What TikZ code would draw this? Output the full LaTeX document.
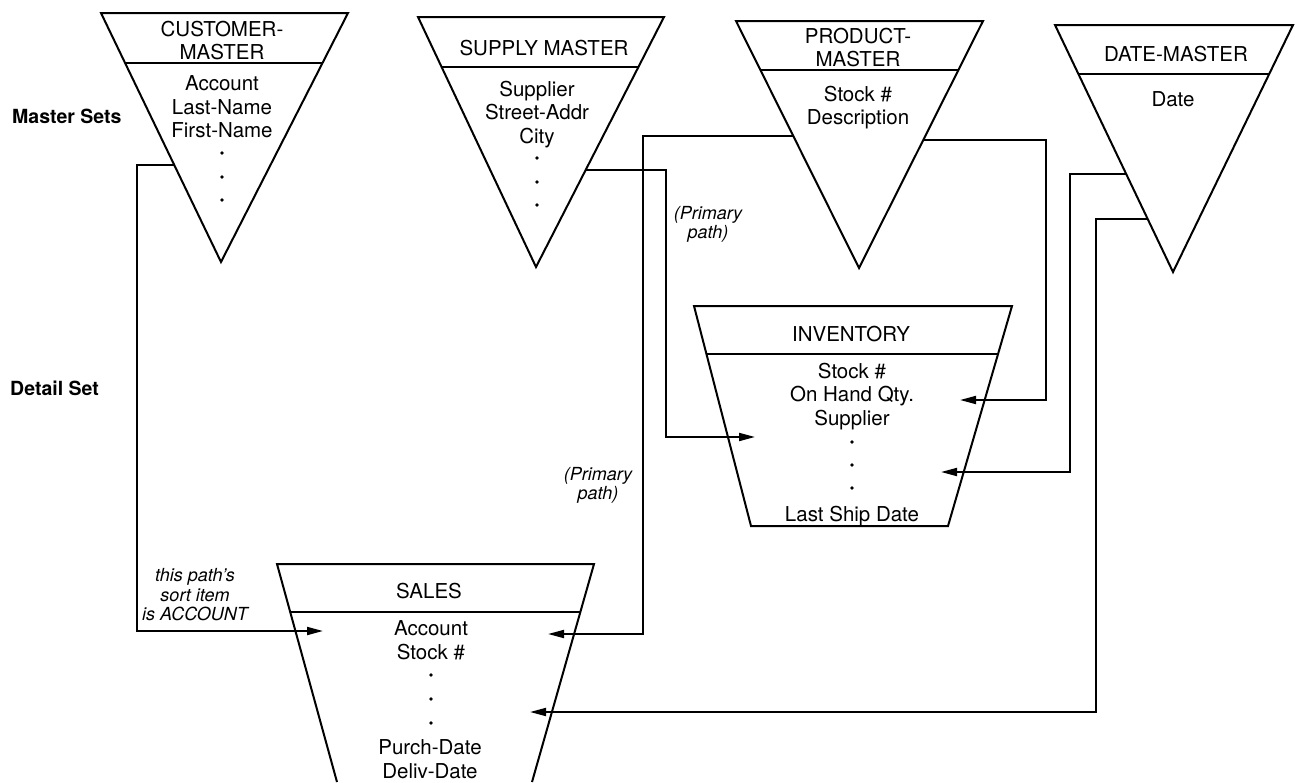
\documentclass[tikz,border=0pt]{standalone}
\usepackage{fontspec}
\setmainfont{TeX Gyre Heros}
\usetikzlibrary{arrows.meta,calc}
\begin{document}
\begin{tikzpicture}[x=1pt,y=-1pt,
  setline/.style={line width=2pt, line join=miter},
  link/.style={line width=1.9pt, -{Triangle[length=16pt,width=8pt]}},
  label/.style={font=\fontsize{20.5}{23.6}\selectfont, align=center, inner sep=0pt, anchor=north},
  note/.style={font=\itshape\fontsize{18}{19.5}\selectfont, align=center, inner sep=0pt, anchor=north},
  level/.style={font=\bfseries\fontsize{19.5}{22}\selectfont, inner sep=0pt, anchor=west},
  elide/.style={fill=black}]
\useasboundingbox (0,0) rectangle (1295,782);

% three elided rows of a record, drawn as a column of dots
\newcommand{\elision}[4]{%
  \fill[elide] (#1,#2) circle (1.9pt) (#1,#3) circle (1.9pt) (#1,#4) circle (1.9pt);}

% level captions
\node[level] (lv-master) at (12,116) {Master Sets};
\node[level] (lv-detail) at (10,388) {Detail Set};

% ---- master sets (inverted triangles) ----
% CUSTOMER-MASTER
\coordinate (cmA) at (101,13); \coordinate (cmB) at (348,13); \coordinate (cmC) at (221,262);
\draw[setline] (cmA) -- (cmB) -- (cmC) -- cycle;
\draw[setline] ($(cmA)!0.2!(cmC)$) -- ($(cmB)!0.2!(cmC)$);
\node[label] (cm-title) at (222,20.6) {CUSTOMER-\\MASTER};
\node[label] (cm-items) at (222,75.6) {Account\\Last-Name\\First-Name};
\elision{222}{153}{177}{200}
\coordinate (cm-out) at ($(cmA)!0.610!(cmC)$);

% SUPPLY MASTER
\coordinate (smA) at (418,17); \coordinate (smB) at (664,17); \coordinate (smC) at (536,267);
\draw[setline] (smA) -- (smB) -- (smC) -- cycle;
\draw[setline] ($(smA)!0.2!(smC)$) -- ($(smB)!0.2!(smC)$);
\node[label] (sm-title) at (544,39.6) {SUPPLY MASTER};
\node[label] (sm-items) at (537,80.6) {Supplier\\Street-Addr\\City};
\elision{537}{158}{182}{205}
\coordinate (sm-out) at ($(smB)!0.612!(smC)$);

% PRODUCT-MASTER
\coordinate (pmA) at (736,21); \coordinate (pmB) at (983,21); \coordinate (pmC) at (859,268);
\draw[setline] (pmA) -- (pmB) -- (pmC) -- cycle;
\draw[setline] ($(pmA)!0.2!(pmC)$) -- ($(pmB)!0.2!(pmC)$);
\node[label] (pm-title) at (858,27.6) {PRODUCT-\\MASTER};
\node[label] (pm-items) at (858,85.6) {Stock \#\\Description};
\coordinate (pm-left) at ($(pmA)!0.466!(pmC)$);
\coordinate (pm-right) at ($(pmB)!0.482!(pmC)$);

% DATE-MASTER
\coordinate (dmA) at (1055,25); \coordinate (dmB) at (1293,25); \coordinate (dmC) at (1173,272);
\draw[setline] (dmA) -- (dmB) -- (dmC) -- cycle;
\draw[setline] ($(dmA)!0.2!(dmC)$) -- ($(dmB)!0.2!(dmC)$);
\node[label] (dm-title) at (1176,45.6) {DATE-MASTER};
\node[label] (dm-items) at (1173,91.6) {Date};
\coordinate (dm-inv) at ($(dmA)!0.603!(dmC)$);
\coordinate (dm-sales) at ($(dmA)!0.785!(dmC)$);

% ---- detail sets (trapezoids) ----
% INVENTORY
\coordinate (inA) at (694,306); \coordinate (inB) at (1012,306);
\coordinate (inC) at (948,526); \coordinate (inD) at (751,526);
\draw[setline] (inA) -- (inB) -- (inC) -- (inD) -- cycle;
\draw[setline] ($(inA)!0.218!(inD)$) -- ($(inB)!0.218!(inC)$);
\node[label] (in-title) at (851,325.6) {INVENTORY};
\node[label] (in-items) at (852,362.6) {Stock \#\\On Hand Qty.\\Supplier};
\elision{852}{442}{465}{488}
\node[label] (in-last) at (852,505.6) {Last Ship Date};
\coordinate (in-supp) at (755,437);
\coordinate (in-qty) at (960,400);
\coordinate (in-ship) at (941,472);

% SALES (runs off the lower edge)
\coordinate (saA) at (277,564); \coordinate (saB) at (594,564);
\coordinate (saC) at (532,782); \coordinate (saD) at (337,782);
\draw[setline] (saD) -- (saA) -- (saB) -- (saC);
\draw[setline] ($(saA)!0.22!(saD)$) -- ($(saB)!0.22!(saC)$);
\node[label] (sa-title) at (429,582.6) {SALES};
\node[label] (sa-items) at (431,620.6) {Account\\Stock \#};
\elision{431}{675}{699}{723}
\node[label] (sa-dates) at (430,739.6) {Purch-Date\\Deliv-Date};
\coordinate (sa-acct) at (323,631);
\coordinate (sa-stock) at (548,634);
\coordinate (sa-date) at (530,712);

% ---- paths between sets ----
\draw[link] (cm-out) -| (137,631) -- (sa-acct);
\draw[link] (pm-left) -| (643,634) -- (sa-stock);
\draw[link] (sm-out) -| (666,437) -- (in-supp);
\draw[link] (pm-right) -| (1046,400) -- (in-qty);
\draw[link] (dm-inv) -| (1070,472) -- (in-ship);
\draw[link] (dm-sales) -| (1096,712) -- (sa-date);

% path notes
\node[note] (pp-upper) at (708,206) {(Primary\\path)};
\node[note] (pp-lower) at (598,467) {(Primary\\path)};
\node[note] (sort-note) at (195,568.5) {this path's\\sort item\\is ACCOUNT};
\end{tikzpicture}
\end{document}
